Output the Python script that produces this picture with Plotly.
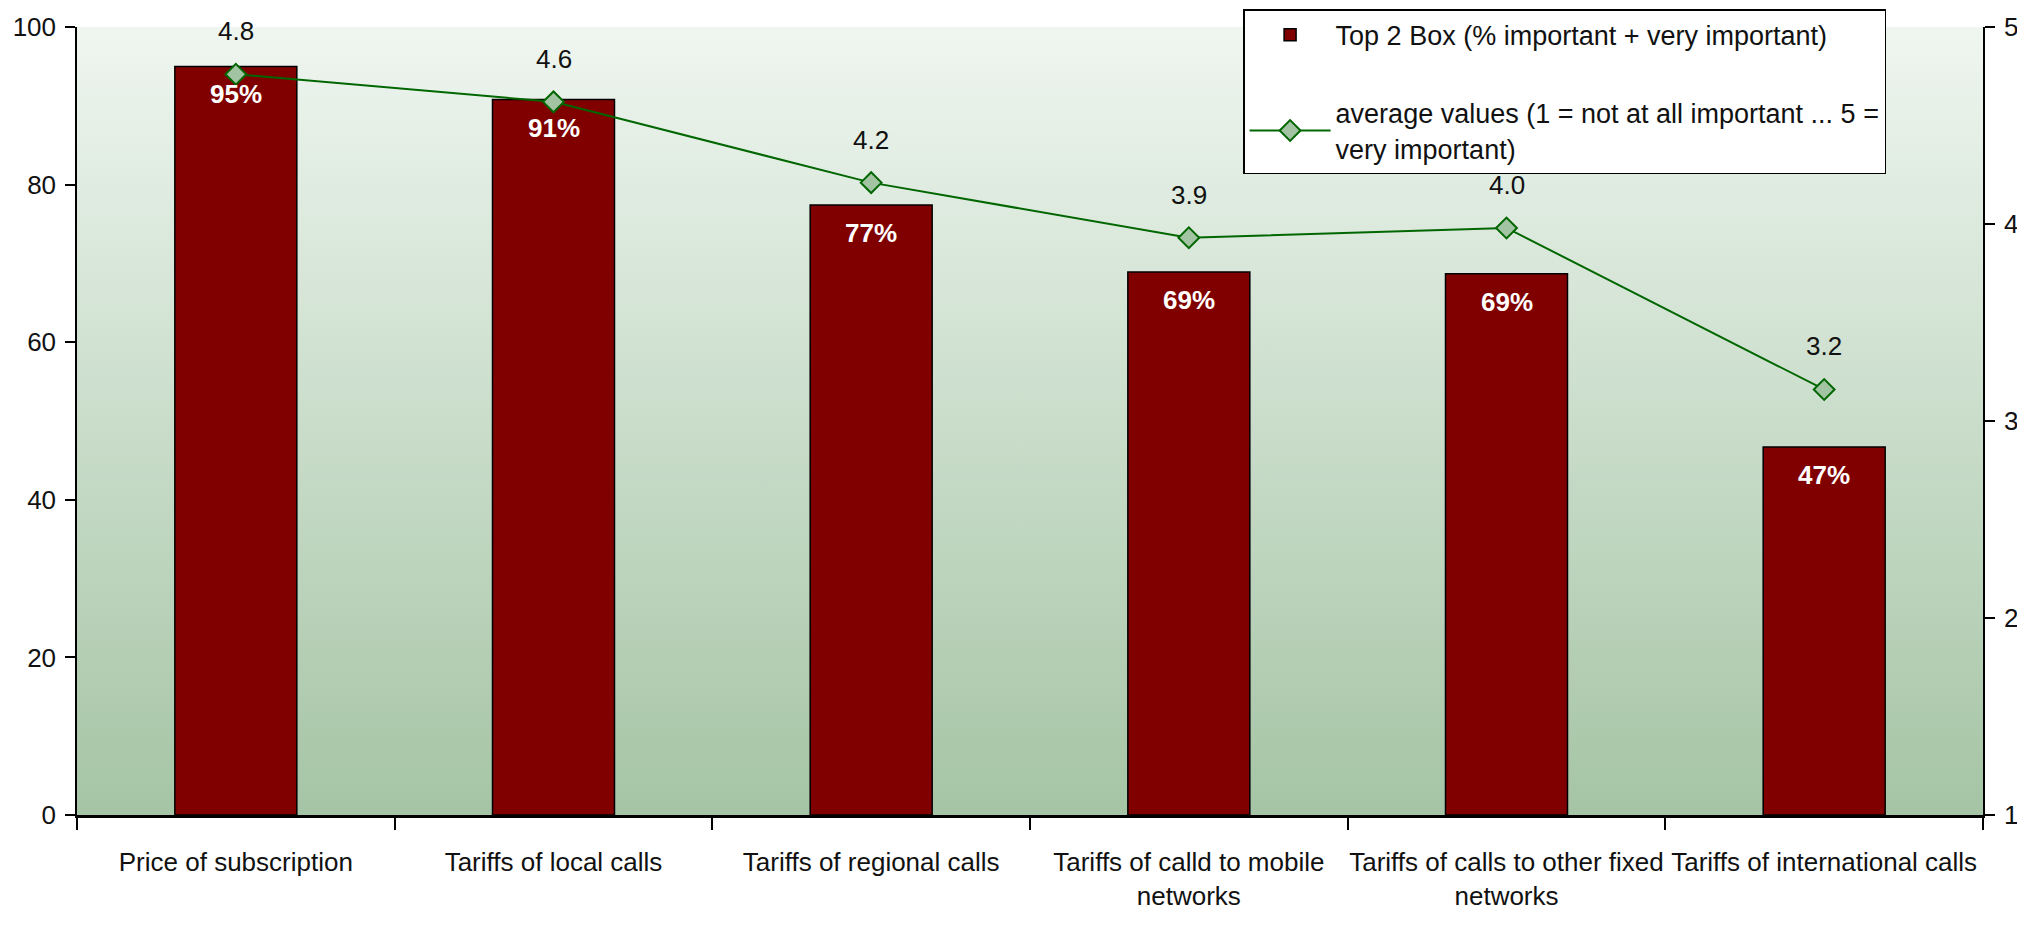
import base64
import plotly.graph_objects as go

categories = [
    "Price of subscription",
    "Tariffs of local calls",
    "Tariffs of regional calls",
    "Tariffs of calld to mobile<br>networks",
    "Tariffs of calls to other fixed<br>networks",
    "Tariffs of international calls",
]
top2_box = [95.0, 90.8, 77.4, 68.9, 68.7, 46.7]
avg_values = [4.76, 4.62, 4.21, 3.93, 3.98, 3.16]

bar_name = "Top 2 Box (% important + very important)"
line_name = "average values (1 = not at all important ... 5 =<br>very important)"

FONT = "Liberation Sans, Arial, sans-serif"

svg = (
    '<svg xmlns="http://www.w3.org/2000/svg" width="100" height="100" preserveAspectRatio="none">'
    '<defs><linearGradient id="g" x1="0" y1="0" x2="0" y2="1">'
    '<stop offset="0" stop-color="#eff6f0"/>'
    '<stop offset="1" stop-color="#a5c4a5"/>'
    '</linearGradient></defs>'
    '<rect width="100" height="100" fill="url(#g)"/></svg>'
)
bg_uri = "data:image/svg+xml;base64," + base64.b64encode(svg.encode()).decode()

fig = go.Figure()
fig.add_trace(go.Bar(
    x=categories, y=top2_box, name=bar_name,
    marker=dict(color="#800000", line=dict(color="black", width=1.5)),
    legendgroup="a", hoverinfo="skip",
))
fig.add_trace(go.Scatter(
    x=categories, y=avg_values, name=line_name, yaxis="y2",
    mode="lines+markers",
    line=dict(color="#006600", width=2),
    marker=dict(symbol="diamond", size=16, color="#a3c4a3",
                line=dict(color="#006600", width=2)),
    legendgroup="b", hoverinfo="skip",
))

annotations = []
for c, v in zip(categories, top2_box):
    annotations.append(dict(
        x=c, y=v, xref="x", yref="y", text=f"{v:.0f}%", showarrow=False,
        yshift=-28, font=dict(family=FONT, size=26, color="white", weight="bold"),
    ))
for c, v in zip(categories, avg_values):
    annotations.append(dict(
        x=c, y=v, xref="x", yref="y2", text=f"{v:.1f}", showarrow=False,
        yshift=43, font=dict(family=FONT, size=26, color="#111111"),
    ))

fig.update_layout(
    width=2017, height=918,
    margin=dict(l=69, r=42, t=19, b=111, autoexpand=False),
    paper_bgcolor="white",
    plot_bgcolor="rgba(0,0,0,0)",
    font=dict(family=FONT, size=26, color="#111111"),
    bargap=0.616,
    showlegend=True,
    legend=dict(
        x=0.6118, y=1.0225, xanchor="left", yanchor="top",
        bgcolor="white", bordercolor="black", borderwidth=1.5,
        font=dict(family=FONT, size=27, color="#111111"),
        traceorder="grouped", tracegroupgap=40, itemwidth=81,
    ),
    xaxis=dict(
        type="category", tickson="boundaries", ticks="outside", ticklen=12,
        tickwidth=1.5, tickcolor="black", tickangle=0, ticklabelstandoff=22,
        showline=True, linecolor="black", linewidth=2.5,
        showgrid=False, zeroline=False,
        tickfont=dict(family=FONT, size=26, color="#111111"),
    ),
    yaxis=dict(
        range=[0, 100], dtick=20, ticks="outside", ticklen=10, tickwidth=1.5,
        tickcolor="black", showline=True, linecolor="black", linewidth=1.5,
        showgrid=False, zeroline=False, ticklabelstandoff=4,
        tickfont=dict(family=FONT, size=26, color="#111111"),
    ),
    yaxis2=dict(
        range=[1, 5], dtick=1, overlaying="y", side="right",
        ticks="outside", ticklen=10, tickwidth=1.5, tickcolor="black",
        showline=True, linecolor="black", linewidth=1.5,
        showgrid=False, zeroline=False, ticklabelstandoff=4,
        tickfont=dict(family=FONT, size=26, color="#111111"),
    ),
    images=[dict(
        source=bg_uri, xref="paper", yref="paper", x=0, y=1,
        sizex=1, sizey=1, sizing="stretch", layer="below",
        xanchor="left", yanchor="top",
    )],
    annotations=annotations,
)

fig.write_html("out.html")
